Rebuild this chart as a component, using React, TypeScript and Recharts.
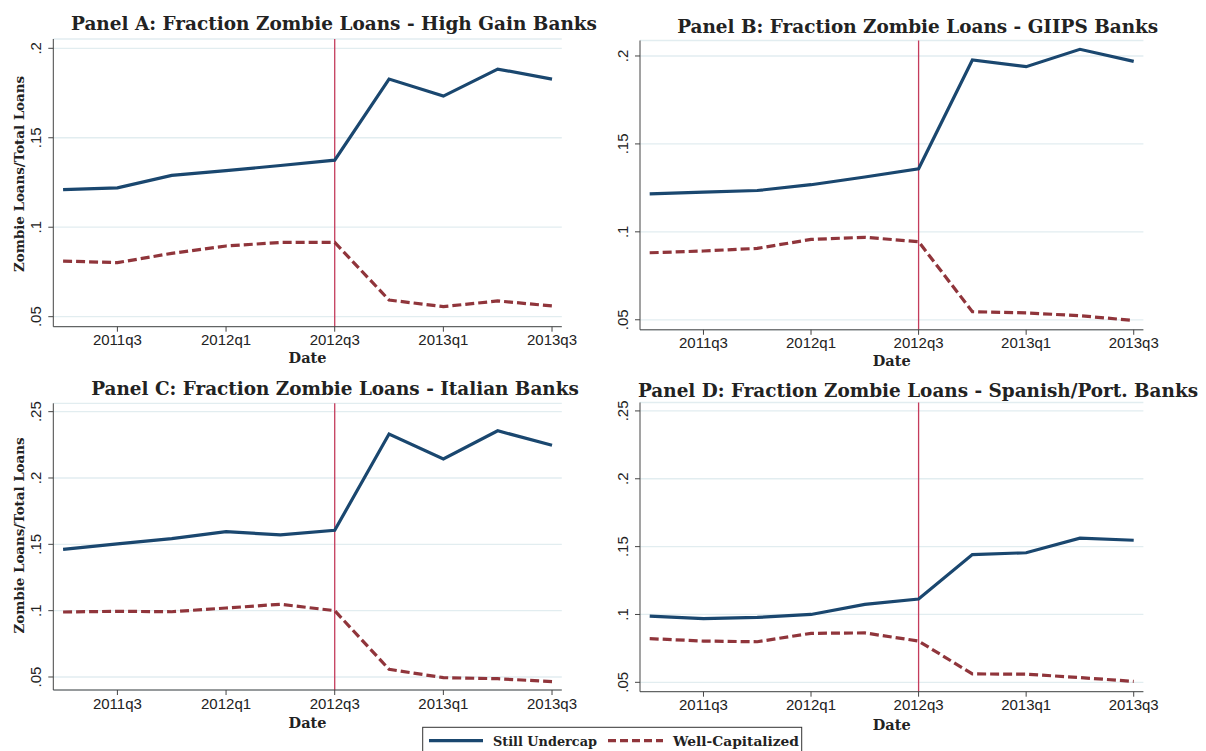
import React from "react";
import {
  LineChart,
  Line,
  XAxis,
  YAxis,
  CartesianGrid,
  ReferenceLine,
} from "recharts";

const quarters = [
  "2011q2",
  "2011q3",
  "2011q4",
  "2012q1",
  "2012q2",
  "2012q3",
  "2012q4",
  "2013q1",
  "2013q2",
  "2013q3",
];
const xTicks = [1, 3, 5, 7, 9];
const eventIndex = 5; // 2012q3

const undercapA = [0.121, 0.122, 0.129, 0.1316, 0.1345, 0.1375, 0.1828, 0.1733, 0.1884, 0.1828];
const wellA = [0.0811, 0.0802, 0.0854, 0.0895, 0.0915, 0.0915, 0.0593, 0.0556, 0.0588, 0.056];

const undercapB = [0.1216, 0.1226, 0.1235, 0.1268, 0.1312, 0.1359, 0.1977, 0.1939, 0.2038, 0.1969];
const wellB = [0.0881, 0.0891, 0.0906, 0.0957, 0.0969, 0.0944, 0.0546, 0.0539, 0.0523, 0.0496];

const undercapC = [0.1462, 0.1503, 0.1543, 0.1596, 0.1571, 0.1606, 0.2331, 0.2144, 0.2356, 0.2247];
const wellC = [0.099, 0.0995, 0.0992, 0.102, 0.1048, 0.1, 0.0558, 0.0495, 0.0487, 0.0465];

const undercapD = [0.0988, 0.097, 0.0978, 0.1, 0.1074, 0.1114, 0.1441, 0.1455, 0.1562, 0.1547];
const wellD = [0.0822, 0.0804, 0.0799, 0.0861, 0.0864, 0.0804, 0.0562, 0.056, 0.0535, 0.0507];

const ticksAB = [0.05, 0.1, 0.15, 0.2];
const ticksCD = [0.05, 0.1, 0.15, 0.2, 0.25];

const BLUE = "#1a476f";
const MAROON = "#90353b";
const GRID = "#e2edf0";
const AXIS = "#444";
const VLINE = "#c43c5c";
const SERIF = '"DejaVu Serif", "Liberation Serif", serif';
const SANS = '"Liberation Sans", Arial, sans-serif';

const fmtY = (v: number) => v.toFixed(2).replace(/0$/, "").replace(/^0/, "");

function rows(under: number[], well: number[]) {
  return quarters.map((q, i) => ({ i, q, under: under[i], well: well[i] }));
}

function YTick({ x, y, payload }: any) {
  return (
    <g transform={`translate(${x - 7.5},${y}) rotate(-90)`}>
      <text textAnchor="middle" fill="#222" fontSize={15} fontFamily={SANS}>
        {fmtY(payload.value)}
      </text>
    </g>
  );
}

function Panel({
  left,
  top,
  width,
  height,
  mTop,
  mRight,
  yWidth,
  xHeight,
  domain,
  yTicks,
  under,
  well,
  dateOffset,
}: any) {
  return (
    <div style={{ position: "absolute", left, top }}>
      <LineChart
        width={width}
        height={height}
        data={rows(under, well)}
        margin={{ top: mTop, right: mRight, bottom: 0, left: 0 }}
      >
        <CartesianGrid vertical={false} stroke={GRID} strokeWidth={1.3} />
        <XAxis
          dataKey="i"
          type="number"
          domain={[-0.18, 9.18]}
          ticks={xTicks}
          interval={0}
          allowDataOverflow
          tickFormatter={(i: number) => quarters[i]}
          stroke={AXIS}
          tick={{ fill: "#222", fontSize: 15, fontFamily: SANS }}
          tickSize={5}
          tickMargin={3}
          height={xHeight}
          label={{
            value: "Date",
            position: "insideBottom",
            offset: dateOffset,
            fill: "#222",
            fontSize: 14.5,
            fontWeight: "bold",
            fontFamily: SERIF,
          }}
        />
        <YAxis
          type="number"
          domain={domain}
          ticks={yTicks}
          interval={0}
          allowDataOverflow
          width={yWidth}
          stroke={AXIS}
          tickSize={5}
          tickMargin={0}
          tick={<YTick />}
        />
        <ReferenceLine x={eventIndex} stroke={VLINE} strokeWidth={1.3} />
        <Line
          type="linear"
          dataKey="under"
          stroke={BLUE}
          strokeWidth={3.2}
          dot={false}
          activeDot={false}
          isAnimationActive={false}
        />
        <Line
          type="linear"
          dataKey="well"
          stroke={MAROON}
          strokeWidth={3.2}
          strokeDasharray="9 4"
          dot={false}
          activeDot={false}
          isAnimationActive={false}
        />
      </LineChart>
    </div>
  );
}

const titles = [
  { text: "Panel A: Fraction Zombie Loans - High Gain Banks", x: 334, y: 30, w: 526 },
  { text: "Panel B: Fraction Zombie Loans - GIIPS Banks", x: 917.7, y: 32.5, w: 481 },
  { text: "Panel C: Fraction Zombie Loans - Italian Banks", x: 335, y: 394.5, w: 487.6 },
  { text: "Panel D: Fraction Zombie Loans - Spanish/Port. Banks", x: 918, y: 396.5, w: 560 },
];

const yLabels = [
  { x: 24, y: 174 },
  { x: 24, y: 535.5 },
];

export default function App() {
  return (
    <div
      style={{
        position: "absolute",
        left: 0,
        top: 0,
        width: 1206,
        height: 751,
        background: "#fff",
        overflow: "hidden",
      }}
    >
      <Panel
        left={0}
        top={0}
        width={600}
        height={370}
        mTop={39}
        mRight={38.2}
        yWidth={53.3}
        xHeight={43.3}
        domain={[0.0444, 0.2052]}
        yTicks={ticksAB}
        under={undercapA}
        well={wellA}
        dateOffset={7}
      />
      <Panel
        left={600}
        top={0}
        width={606}
        height={373}
        mTop={40.5}
        mRight={62.6}
        yWidth={40}
        xHeight={43.2}
        domain={[0.0443, 0.2088]}
        yTicks={ticksAB}
        under={undercapB}
        well={wellB}
        dateOffset={7}
      />
      <Panel
        left={0}
        top={370}
        width={600}
        height={363}
        mTop={33.3}
        mRight={38.2}
        yWidth={53.3}
        xHeight={43}
        domain={[0.0402, 0.2563]}
        yTicks={ticksCD}
        under={undercapC}
        well={wellC}
        dateOffset={5}
      />
      <Panel
        left={600}
        top={370}
        width={606}
        height={364.7}
        mTop={32.5}
        mRight={62.6}
        yWidth={40}
        xHeight={43}
        domain={[0.0431, 0.2562]}
        yTicks={ticksCD}
        under={undercapD}
        well={wellD}
        dateOffset={5}
      />
      <svg
        width={1206}
        height={751}
        style={{ position: "absolute", left: 0, top: 0, pointerEvents: "none" }}
      >
        {titles.map((t) => (
          <text
            key={t.text}
            x={t.x}
            y={t.y}
            textAnchor="middle"
            fontFamily={SERIF}
            fontWeight="bold"
            fontSize={18}
            fill="#222"
            textLength={t.w}
            lengthAdjust="spacingAndGlyphs"
          >
            {t.text}
          </text>
        ))}
        {yLabels.map((l, k) => (
          <g key={k} transform={`translate(${l.x},${l.y}) rotate(-90)`}>
            <text
              textAnchor="middle"
              fontFamily={SERIF}
              fontWeight="bold"
              fontSize={13.5}
              fill="#222"
              textLength={196}
              lengthAdjust="spacingAndGlyphs"
            >
              Zombie Loans/Total Loans
            </text>
          </g>
        ))}
        <g>
          <rect x={422.7} y={727.3} width={379} height={40} fill="#fff" stroke="#333" strokeWidth={1} />
          <line x1={429} x2={483} y1={740.7} y2={740.7} stroke={BLUE} strokeWidth={3.2} />
          <text
            x={493}
            y={745.5}
            fontFamily={SERIF}
            fontWeight="bold"
            fontSize={13.5}
            fill="#222"
            textLength={104}
            lengthAdjust="spacingAndGlyphs"
          >
            Still Undercap
          </text>
          <line
            x1={608}
            x2={663}
            y1={740.7}
            y2={740.7}
            stroke={MAROON}
            strokeWidth={3.2}
            strokeDasharray="8 4"
          />
          <text
            x={673}
            y={745.5}
            fontFamily={SERIF}
            fontWeight="bold"
            fontSize={13.5}
            fill="#222"
            textLength={126}
            lengthAdjust="spacingAndGlyphs"
          >
            Well-Capitalized
          </text>
        </g>
      </svg>
    </div>
  );
}
